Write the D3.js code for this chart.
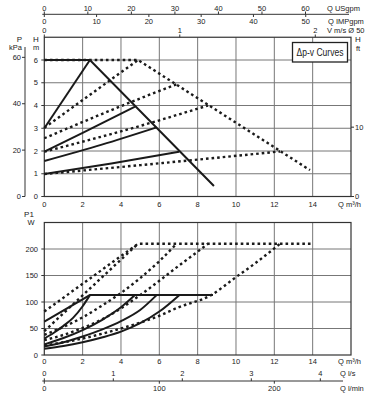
<!DOCTYPE html>
<html lang="en">
<head>
<meta charset="UTF-8">
<title>Δp-v Curves</title>
<style>
  html, body { margin: 0; padding: 0; background: #fff; }
  svg text { font-family: "Liberation Sans", Arial, sans-serif; fill: #222; }
</style>
</head>
<body>
<div id="chart"></div>
<script src="https://d3js.org/d3.v7.min.js"></script>
<script>
// ticks
const qTicks = [0, 2, 4, 6, 8, 10, 12, 14];
const hTicks = [0, 1, 2, 3, 4, 5, 6];
const kpaTicks = [0, 20, 40, 60];
const ftTicks = [0, 10];
const usgpmTicks = [0, 10, 20, 30, 40, 50, 60];
const impTicks = [0, 10, 20, 30, 40, 50];
const velTicks = [0, 1, 2];
const lsTicks = [0, 1, 2, 3, 4];
const lminTicks = [0, 100, 200];
const wTicks = [0, 50, 100, 150, 200];

// head curves [Q m3/h, H m]
const headSolid = [
  [[0, 6], [2.38, 6], [8.85, 0.46]],
  [[0, 3], [2.38, 6]],
  [[0, 1.97], [2, 2.8], [4.73, 3.95]],
  [[0, 1.56], [3, 2.28], [5.86, 3.04]],
  [[0, 0.99], [3.5, 1.45], [7.04, 1.97]]
];
const headDashed = [
  [[0, 6], [4.89, 6], [13.86, 1.16]],
  [[0, 3.02], [4.89, 6]],
  [[0, 2.56], [5.03, 4.32], [6.9, 4.93]],
  [[0, 1.97], [5.03, 3.11], [8.54, 4.0]],
  [[0, 0.99], [5.03, 1.38], [12.3, 1.98]]
];

// power curves [Q m3/h, P1 W]
const powerSolid = [
  [[0, 63], [2.38, 113], [8.8, 113]],
  [[0, 31], [0.5, 42], [1, 55], [1.5, 70], [2, 92], [2.38, 113]],
  [[0, 20], [1, 32], [2, 47], [3, 66], [4, 90], [4.73, 113]],
  [[0, 16], [1, 24], [2, 35], [3, 48], [4, 64], [5, 85], [5.86, 113]],
  [[0, 12], [1, 17], [2, 24], [3, 33], [4, 44], [5, 60], [6, 82], [7.04, 113]]
];
const powerDashed = [
  [[0, 82], [4.89, 210], [13.9, 210]],
  [[0, 45], [2.4, 126], [4.89, 210]],
  [[0, 38], [1, 53], [2, 71], [3, 93], [4, 117], [5, 145], [6, 177], [6.9, 210]],
  [[0, 28], [1, 38], [2, 51], [3, 67], [4, 88], [5, 113], [6, 140], [7, 168], [8, 195], [8.54, 210]],
  [[0, 18], [1, 24], [2, 31], [3, 40], [4, 50], [5, 61], [5.86, 72], [7, 90], [8.7, 113], [10, 147], [11, 173], [12.3, 210]]
];

const W = 370, H = 399;
const svg = d3.select("#chart").append("svg").attr("width", W).attr("height", H);

const x = d3.scaleLinear().domain([0, 16]).range([44.3, 351]);
const yH = d3.scaleLinear().domain([0, 7]).range([196.5, 37.25]);
const yW = d3.scaleLinear().domain([0, 250]).range([355, 222.5]);
const yKpa = v => yH(v / 9.81);
const yFt = v => yH(v * 0.3048);

const gridCol = "#777";
const fs = 7.5;

function grid(y, yTicks, yMax) {
  const g = svg.append("g");
  g.selectAll(".v").data(d3.range(2, 16, 2)).join("line")
    .attr("x1", d => x(d)).attr("x2", d => x(d))
    .attr("y1", y(0)).attr("y2", y(yMax))
    .attr("stroke", gridCol).attr("stroke-width", 1);
  g.selectAll(".h").data(yTicks.filter(d => d > 0)).join("line")
    .attr("x1", x(0)).attr("x2", x(16))
    .attr("y1", d => y(d)).attr("y2", d => y(d))
    .attr("stroke", gridCol).attr("stroke-width", 1);
  g.append("rect")
    .attr("x", x(0)).attr("y", y(yMax))
    .attr("width", x(16) - x(0)).attr("height", y(0) - y(yMax))
    .attr("fill", "none").attr("stroke", "#333").attr("stroke-width", 1.2);
}

grid(yH, hTicks, 7);
grid(yW, wTicks, 250);

function drawCurves(data, y, dashed) {
  const line = d3.line().x(d => x(d[0])).y(d => y(d[1]));
  svg.append("g").selectAll("path").data(data).join("path")
    .attr("d", (d, i) => line.curve(i === 0 ? d3.curveLinear : d3.curveMonotoneX)(d))
    .attr("fill", "none")
    .attr("stroke", "#1a1a1a")
    .attr("stroke-width", dashed ? 2.4 : 2)
    .attr("stroke-dasharray", dashed ? "2.6 3" : null);
}

drawCurves(headDashed, yH, true);
drawCurves(headSolid, yH, false);
drawCurves(powerDashed, yW, true);
drawCurves(powerSolid, yW, false);

function txt(t, px, py, anchor, size) {
  svg.append("text").attr("x", px).attr("y", py)
    .attr("text-anchor", anchor || "start")
    .attr("font-size", size || fs).text(t);
}

// H m axis (left)
svg.append("g").selectAll("line").data(hTicks).join("line")
  .attr("x1", x(0) - 3).attr("x2", x(0)).attr("y1", d => yH(d)).attr("y2", d => yH(d))
  .attr("stroke", "#333");
svg.append("g").selectAll("text").data(hTicks).join("text")
  .attr("x", 38).attr("y", d => yH(d) + 2.7).attr("text-anchor", "end")
  .attr("font-size", fs).text(d => d);
txt("H", 33, 42, "start", 8);
txt("m", 33, 50, "start", 7.5);

// P kPa axis
svg.append("line").attr("x1", 25).attr("x2", 25).attr("y1", 47).attr("y2", yKpa(0))
  .attr("stroke", "#333");
svg.append("line").attr("x1", 22).attr("x2", 25).attr("y1", yKpa(0)).attr("y2", yKpa(0))
  .attr("stroke", "#333");
svg.append("g").selectAll("line").data(kpaTicks).join("line")
  .attr("x1", 22).attr("x2", 25).attr("y1", d => yKpa(d)).attr("y2", d => yKpa(d))
  .attr("stroke", "#333");
svg.append("g").selectAll("text").data(kpaTicks).join("text")
  .attr("x", 21).attr("y", d => yKpa(d) + 2.7).attr("text-anchor", "end")
  .attr("font-size", fs).text(d => d);
txt("P", 19.5, 42, "middle", 8);
txt("kPa", 15.5, 49.5, "middle", 7.5);

// H ft axis (right)
svg.append("g").selectAll("line").data(ftTicks).join("line")
  .attr("x1", x(16)).attr("x2", x(16) + 3).attr("y1", d => yFt(d)).attr("y2", d => yFt(d))
  .attr("stroke", "#333");
svg.append("g").selectAll("text").data(ftTicks).join("text")
  .attr("x", 355).attr("y", d => yFt(d) + 2.7)
  .attr("font-size", fs).text(d => d);
txt("H", 355, 42, "start", 8);
txt("ft", 356, 50.5, "start", 7.5);

// Q m3/h labels
[yH(0), yW(0)].forEach((y0, k) => {
  svg.append("g").selectAll("text").data(qTicks).join("text")
    .attr("x", d => x(d)).attr("y", y0 + (k === 0 ? 10.5 : 8.5)).attr("text-anchor", "middle")
    .attr("font-size", fs).text(d => d);
  txt("Q m³/h", 338, y0 + (k === 0 ? 10.5 : 8.5), "start", fs);
});

// top secondary axes
const xUS = v => x(v / 4.403);
const xIMP = v => x(v / 3.666);
const xVel = v => x(v * 3600 * Math.PI * 0.025 * 0.025);
svg.append("line").attr("x1", x(0) - 2).attr("x2", 349).attr("y1", 14.3).attr("y2", 14.3)
  .attr("stroke", "#333");
svg.append("g").selectAll("line").data(usgpmTicks).join("line")
  .attr("x1", d => xUS(d)).attr("x2", d => xUS(d)).attr("y1", 11.5).attr("y2", 14.3)
  .attr("stroke", "#333");
svg.append("g").selectAll("text").data(usgpmTicks).join("text")
  .attr("x", d => xUS(d)).attr("y", 10.5).attr("text-anchor", "middle")
  .attr("font-size", fs).text(d => d);
txt("Q USgpm", 327, 10.5, "start", fs);
svg.append("g").selectAll("line").data(impTicks).join("line")
  .attr("x1", d => xIMP(d)).attr("x2", d => xIMP(d)).attr("y1", 14.3).attr("y2", 17)
  .attr("stroke", "#333");
svg.append("g").selectAll("text").data(impTicks).join("text")
  .attr("x", d => xIMP(d)).attr("y", 24).attr("text-anchor", "middle")
  .attr("font-size", fs).text(d => d);
txt("Q IMPgpm", 328, 24, "start", fs);
svg.append("g").selectAll("line").data(velTicks).join("line")
  .attr("x1", d => xVel(d)).attr("x2", d => xVel(d)).attr("y1", 34.5).attr("y2", yH(7))
  .attr("stroke", "#333");
svg.append("g").selectAll("text").data(velTicks).join("text")
  .attr("x", d => xVel(d)).attr("y", 32.5).attr("text-anchor", "middle")
  .attr("font-size", fs).text(d => d);
txt("V m/s Ø 50", 327, 32.5, "start", fs);

// bottom chart axis
svg.append("g").selectAll("line").data(wTicks).join("line")
  .attr("x1", x(0) - 3).attr("x2", x(0)).attr("y1", d => yW(d)).attr("y2", d => yW(d))
  .attr("stroke", "#333");
svg.append("g").selectAll("text").data(wTicks).join("text")
  .attr("x", 38).attr("y", d => yW(d) + 2.7).attr("text-anchor", "end")
  .attr("font-size", fs).text(d => d);
txt("P1", 29, 216.5, "middle", 8);
txt("W", 31, 225, "middle", 7.5);

// bottom secondary axes
const xLs = v => x(v * 3.6);
const xLmin = v => x(v * 0.06);
svg.append("line").attr("x1", x(0) - 2).attr("x2", 343).attr("y1", 381).attr("y2", 381)
  .attr("stroke", "#333");
svg.append("g").selectAll("line").data(lsTicks).join("line")
  .attr("x1", d => xLs(d)).attr("x2", d => xLs(d)).attr("y1", 378.3).attr("y2", 381)
  .attr("stroke", "#333");
svg.append("g").selectAll("text").data(lsTicks).join("text")
  .attr("x", d => xLs(d)).attr("y", 376).attr("text-anchor", "middle")
  .attr("font-size", fs).text(d => d);
txt("Q l/s", 340, 376, "start", fs);
svg.append("g").selectAll("line").data(lminTicks).join("line")
  .attr("x1", d => xLmin(d)).attr("x2", d => xLmin(d)).attr("y1", 381).attr("y2", 383.7)
  .attr("stroke", "#333");
svg.append("g").selectAll("text").data(lminTicks).join("text")
  .attr("x", d => xLmin(d)).attr("y", 390.5).attr("text-anchor", "middle")
  .attr("font-size", fs).text(d => d);
txt("Q l/min", 340, 390.5, "start", fs);

// legend box
svg.append("rect").attr("x", 292.5).attr("y", 42.5).attr("width", 55).attr("height", 19.5)
  .attr("fill", "#fff").attr("stroke", "#222").attr("stroke-width", 1.3);
svg.append("text").attr("x", 320).attr("y", 56).attr("text-anchor", "middle")
  .attr("font-size", 10).attr("textLength", 47).attr("lengthAdjust", "spacingAndGlyphs")
  .text("Δp-v Curves");
</script>
</body>
</html>
